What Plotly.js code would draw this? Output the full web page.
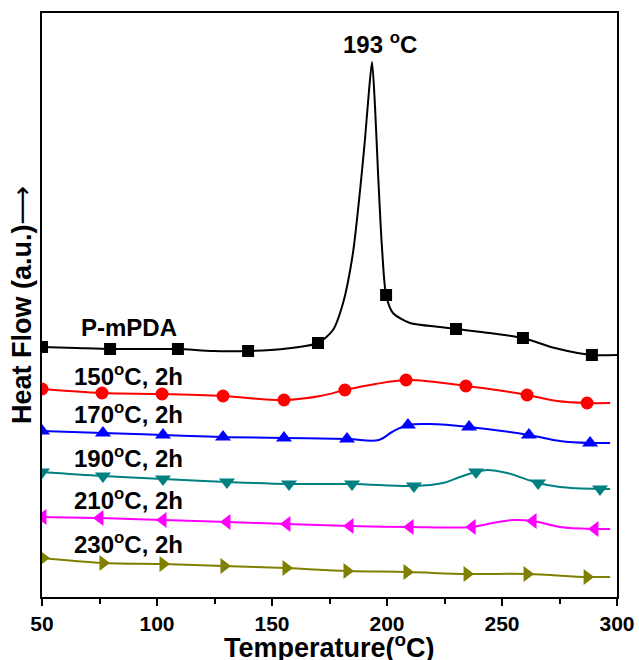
<!DOCTYPE html>
<html>
<head>
<meta charset="utf-8">
<script src="https://cdn.plot.ly/plotly-3.0.1.min.js"></script>
<style>html,body{margin:0;padding:0;background:#fff;}#chart{width:639px;height:660px;}</style>
</head>
<body>
<div id="chart"></div>
<script>
// ---- data (temperature in °C, heat flow in arbitrary units, offset per curve) ----
const xTickVals = [50, 100, 150, 200, 250, 300];
const xTitle = "Temperature(<sup>o</sup>C)";
const yTitle = "Heat Flow (a.u.)";

const blackCurveX = [50, 64.8, 79.6, 94.3, 109.1, 124.3, 139.6, 154.8, 170, 176.5, 180.9, 185.2, 188.3, 190.4, 192.2, 193.5, 194.8, 196.1, 197.8, 199.6, 202.6, 210, 223, 230, 244.8, 259.1, 273, 289.1, 300];
const blackCurveY = [250, 249, 248, 248, 248, 246, 246, 248, 254, 267, 294, 344, 407, 457, 507, 535, 490, 424, 350, 302, 284, 274, 270, 268, 264, 259, 249, 242, 242];
const blackMarkX = [50, 79.6, 109.1, 139.6, 170, 199.6, 230, 259.1, 289.1];
const blackMarkY = [250, 248, 248, 246, 254, 302, 268, 259, 242];

const redCurveX = [50, 76.1, 102.2, 128.7, 155.2, 171, 181.7, 195, 208.3, 221, 234.3, 247.6, 260.9, 274, 287, 297];
const redCurveY = [208, 204, 203, 201, 197, 201, 207, 213, 217, 215, 211, 207, 202, 196, 194, 194];
const redMarkX = [50, 76.1, 102.2, 128.7, 155.2, 181.7, 208.3, 234.3, 260.9, 287];
const redMarkY = [208, 204, 203, 201, 197, 207, 217, 211, 202, 194];

const blueCurveX = [50, 76.5, 102.6, 128.7, 155.2, 182.6, 196.5, 202.2, 209.1, 218.7, 235.7, 261.7, 275.2, 288.3, 297];
const blueCurveY = [166, 164, 162, 160, 159, 158, 157, 165, 172, 173, 170, 162, 156, 154, 154];
const blueMarkX = [50, 76.5, 102.6, 128.7, 155.2, 182.6, 209.1, 235.7, 261.7, 288.3];
const blueMarkY = [166, 164, 162, 160, 159, 158, 172, 170, 162, 154];

const tealCurveX = [50, 76.5, 102.6, 130.4, 157.4, 184.8, 211.7, 224.3, 231.7, 238.7, 243.5, 252.2, 265.7, 275.2, 292.6, 297];
const tealCurveY = [125, 121, 118, 115, 113, 113, 111, 114, 120, 125, 127, 124, 114, 110, 108, 108];
const tealMarkX = [50, 76.5, 102.6, 130.4, 157.4, 184.8, 211.7, 238.7, 265.7, 292.6];
const tealMarkY = [125, 121, 118, 115, 113, 113, 111, 125, 114, 108];

const magentaCurveX = [50, 75.2, 102.6, 130.4, 156.5, 183.9, 210, 237, 246.1, 254.8, 263.5, 275.2, 290.4, 297];
const magentaCurveY = [80, 79, 77, 75, 73, 71, 70, 70, 74, 77, 76, 70, 68, 68];
const magentaMarkX = [50.4, 75.2, 102.6, 130.4, 156.5, 183.9, 210, 237, 263.5, 290.4];
const magentaMarkY = [80, 79, 77, 75, 73, 71, 70, 70, 76, 68];

const oliveCurveX = [50, 76.5, 102.6, 129.1, 156.1, 182.6, 208.7, 234.8, 260.9, 287, 297];
const oliveCurveY = [39, 34, 33, 31, 29, 26, 25, 23, 23, 20, 20];
const oliveMarkX = [50.4, 76.5, 102.6, 129.1, 156.1, 182.6, 208.7, 234.8, 260.9, 287];
const oliveMarkY = [39, 34, 33, 31, 29, 26, 25, 23, 23, 20];

const seriesLabels = ["P-mPDA", "150<sup>o</sup>C, 2h", "170<sup>o</sup>C, 2h", "190<sup>o</sup>C, 2h", "210<sup>o</sup>C, 2h", "230<sup>o</sup>C, 2h"];
const labelX = [87.8, 87.4, 87.4, 87.4, 87.4, 87.4];
const labelY = [270, 222, 184, 140, 98, 54];
const peakLabel = "193 <sup>o</sup>C";
const peakLabelX = 197;
const peakLabelY = 554;

// ---- styling ----
const FONT = "Liberation Sans, Arial, Helvetica, sans-serif";
const series = [
  {cx: blackCurveX, cy: blackCurveY, mx: blackMarkX, my: blackMarkY, color: "#000000", symbol: "square", size: 12, smooth: 0.7},
  {cx: redCurveX, cy: redCurveY, mx: redMarkX, my: redMarkY, color: "#FF0000", symbol: "circle", size: 13, smooth: 1},
  {cx: blueCurveX, cy: blueCurveY, mx: blueMarkX, my: blueMarkY, color: "#0000FF", symbol: "triangle-up", size: 14, smooth: 1},
  {cx: tealCurveX, cy: tealCurveY, mx: tealMarkX, my: tealMarkY, color: "#008080", symbol: "triangle-down", size: 14, smooth: 1},
  {cx: magentaCurveX, cy: magentaCurveY, mx: magentaMarkX, my: magentaMarkY, color: "#FF00FF", symbol: "triangle-left", size: 14, smooth: 1},
  {cx: oliveCurveX, cy: oliveCurveY, mx: oliveMarkX, my: oliveMarkY, color: "#808000", symbol: "triangle-right", size: 14, smooth: 1}
];

const traces = [];
series.forEach(s => {
  traces.push({x: s.cx, y: s.cy, type: "scatter", mode: "lines", cliponaxis: true,
    line: {color: s.color, width: 2, shape: "spline", smoothing: s.smooth}, hoverinfo: "skip", showlegend: false});
  traces.push({x: s.mx, y: s.my, type: "scatter", mode: "markers", cliponaxis: true,
    marker: {color: s.color, symbol: s.symbol, size: s.size, line: {width: 0}}, showlegend: false});
});

const annotations = seriesLabels.map((t, i) => ({
  x: labelX[i], y: labelY[i], xref: "x", yref: "y", text: t, showarrow: false,
  font: {family: FONT, size: 24, color: "#000", weight: "bold"}, xanchor: "center", yanchor: "middle"
}));
annotations.push({x: peakLabelX, y: peakLabelY, xref: "x", yref: "y", text: peakLabel, showarrow: false,
  font: {family: FONT, size: 24, color: "#000", weight: "bold"}, xanchor: "center", yanchor: "middle"});
// x-axis title placed as paper annotation so it can sit at the very bottom edge as in the reference
annotations.push({x: 0.5, y: 0, xref: "paper", yref: "paper", text: xTitle, showarrow: false,
  xanchor: "center", yanchor: "middle", yshift: -49,
  font: {family: FONT, size: 27, color: "#000", weight: "bold"}});

const layout = {
  width: 639, height: 660,
  margin: {l: 42, r: 22, t: 13, b: 63},
  paper_bgcolor: "#fff", plot_bgcolor: "#fff",
  showlegend: false,
  font: {family: FONT, color: "#000"},
  xaxis: {
    range: [50, 300], tickvals: xTickVals, ticks: "outside", ticklen: 7, tickwidth: 2, tickcolor: "#000",
    minor: {dtick: 25, tick0: 75, ticks: "outside", ticklen: 5, tickwidth: 2, tickcolor: "#000", showgrid: false},
    showline: true, linewidth: 2, linecolor: "#000", mirror: true, showgrid: false, zeroline: false,
    tickfont: {family: FONT, size: 21, color: "#000", weight: "bold"}
  },
  yaxis: {
    range: [0, 584], showticklabels: false, ticks: "", showline: true, linewidth: 2, linecolor: "#000",
    mirror: true, showgrid: false, zeroline: false,
    title: {text: yTitle + "<span style=\"font-family:'DejaVu Sans';font-weight:normal\">\u27F6</span>", font: {family: FONT, size: 27, color: "#000", weight: "bold"}, standoff: 1}
  },
  annotations: annotations
};

Plotly.newPlot("chart", traces, layout, {displayModeBar: false, staticPlot: true});
</script>
</body>
</html>
